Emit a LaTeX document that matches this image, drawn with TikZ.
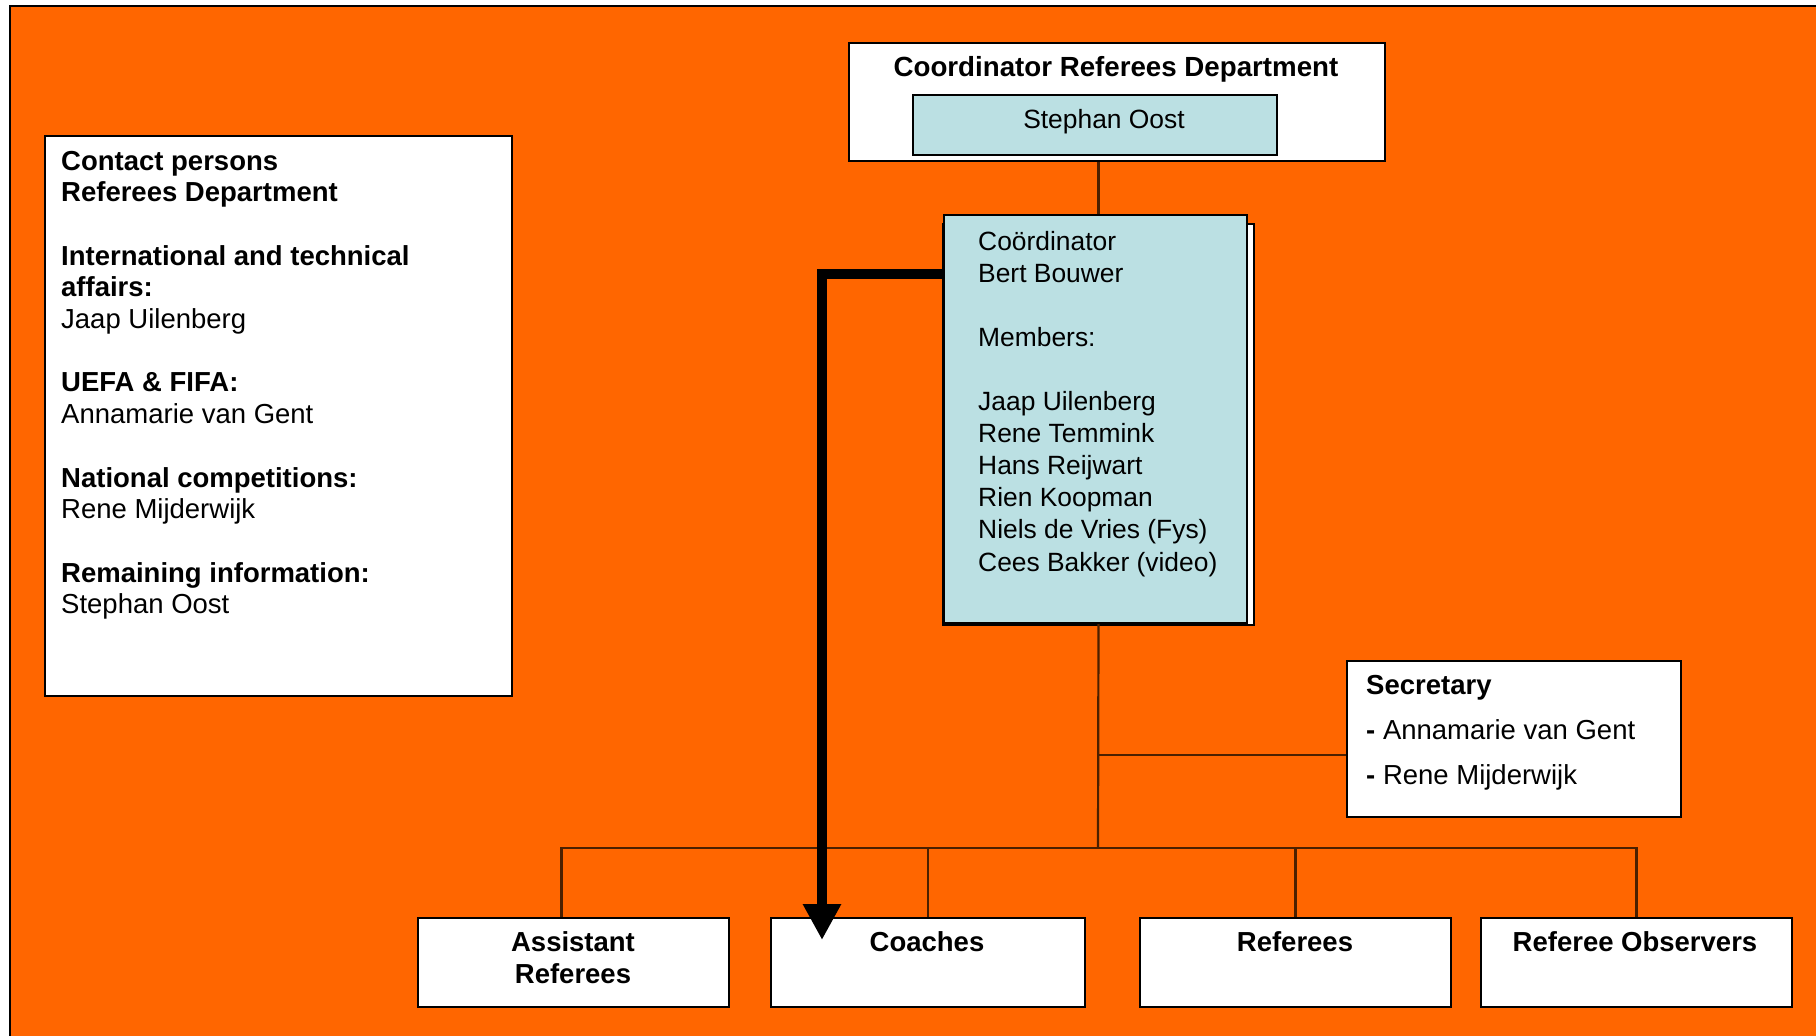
\documentclass[tikz,border=0pt]{standalone}
\usepackage{fontspec}
\setmainfont{Liberation Sans}
\usetikzlibrary{arrows.meta,calc}
\definecolor{bgorange}{RGB}{255,102,0}
\definecolor{paleblue}{RGB}{187,224,227}
\definecolor{linkbrown}{RGB}{75,32,0}
\newcommand\mysize[2]{\fontsize{#1}{#2}\selectfont}
\begin{document}
\begin{tikzpicture}[x=1pt,y=-1pt,
  box/.style={draw=black,line width=2pt,fill=white,inner sep=0pt,anchor=north west,minimum width=#1},
  bluebox/.style={box=#1,fill=paleblue},
  link/.style={draw=linkbrown,line width=2.2pt},
  bigarrow/.style={line width=10pt,-{Triangle[width=36pt,length=36pt]}},
  txt/.style={inner sep=0pt,text=black}]
\useasboundingbox (0,0) rectangle (1816,1036);
\path[fill=bgorange,draw=black,line width=1.5pt] (10,6) rectangle (1830,1050);

% boxes
\node[box=467pt,minimum height=560pt] (contact) at (44,135) {};
\node[box=536pt,minimum height=118pt] (coord) at (848,42) {};
\node[bluebox=364pt,minimum height=60pt] (stephan) at (912,94) {};
\node[box=311pt,minimum height=401pt] (membersback) at (942,223) {};
\node[bluebox=303pt,minimum height=408pt] (members) at (943,214) {};
\node[box=334pt,minimum height=156pt,line width=1.6pt] (secretary) at (1346,660) {};
\node[box=311pt,minimum height=89pt] (assist) at (417,917) {};
\node[box=314pt,minimum height=89pt] (coaches) at (770,917) {};
\node[box=311pt,minimum height=89pt] (referees) at (1139,917) {};
\node[box=311pt,minimum height=89pt] (observers) at (1480,917) {};

% texts (multi-line nodes: base = baseline of the last line)
\node[txt,anchor=base west,align=left,font=\mysize{27.5}{31.7}] (contacttext) at (61,613.8)
 {\textbf{Contact persons}\\
  \textbf{Referees Department}\\[31.7pt]
  \textbf{International and technical}\\
  \textbf{affairs:}\\
  Jaap Uilenberg\\[31.7pt]
  \textbf{UEFA \& FIFA:}\\
  Annamarie van Gent\\[31.7pt]
  \textbf{National competitions:}\\
  Rene Mijderwijk\\[31.7pt]
  \textbf{Remaining information:}\\
  Stephan Oost};
\node[txt,anchor=base,font=\mysize{27.7}{32}\bfseries] (coordtitle) at (1116,76) {Coordinator Referees Department};
\node[txt,anchor=base,font=\mysize{26.4}{32}] (stephantext) at (1104,128) {Stephan Oost};
\node[txt,anchor=base west,align=left,font=\mysize{26.4}{32.05}] (memberstext) at (978,571)
 {Coördinator\\
  Bert Bouwer\\[32.05pt]
  Members:\\[32.05pt]
  Jaap Uilenberg\\
  Rene Temmink\\
  Hans Reijwart\\
  Rien Koopman\\
  Niels de Vries (Fys)\\
  Cees Bakker (video)};
\node[txt,anchor=base west,align=left,font=\mysize{27.5}{45}] (sectext) at (1366,784)
 {\textbf{Secretary}\\
  \textbf{-} Annamarie van Gent\\
  \textbf{-} Rene Mijderwijk};
\node[txt,anchor=base,align=center,font=\mysize{27.5}{32}\bfseries] (assisttext) at (573,983) {Assistant\\Referees};
\node[txt,anchor=base,font=\mysize{27.5}{32}\bfseries] (coachestext) at (927,951) {Coaches};
\node[txt,anchor=base,font=\mysize{27.5}{32}\bfseries] (refereestext) at (1295,951) {Referees};
\node[txt,anchor=base,font=\mysize{27.5}{32}\bfseries] (observerstext) at (1635,951) {Referee Observers};

% connectors
\coordinate (topjoin) at ($(members.north)+(3,0)$);
\coordinate (botjoin) at ($(members.south)+(3,0)$);
\coordinate (bus) at (1098,848);
\coordinate (secjoin) at ($(secretary.west)+(0,16)$);
\coordinate (assistdrop) at ($(assist.north)+(-12,0)$);
\draw[link] (topjoin) -- (topjoin |- coord.south);
\draw[link] (botjoin) -- (bus);
\draw[link] (secjoin) -- (secjoin -| bus);
\draw[link] (assistdrop) |- (observers.north |- bus) -- (observers.north);
\draw[link] (coaches.north) -- (coaches.north |- bus);
\draw[link] (referees.north) -- (referees.north |- bus);

% thick arrow
\coordinate (arrowstart) at ($(members.north west)+(0,60)$);
\coordinate (arrowtip) at (822,940);
\draw[bigarrow] (arrowstart) -| (arrowtip);
\end{tikzpicture}
\end{document}
